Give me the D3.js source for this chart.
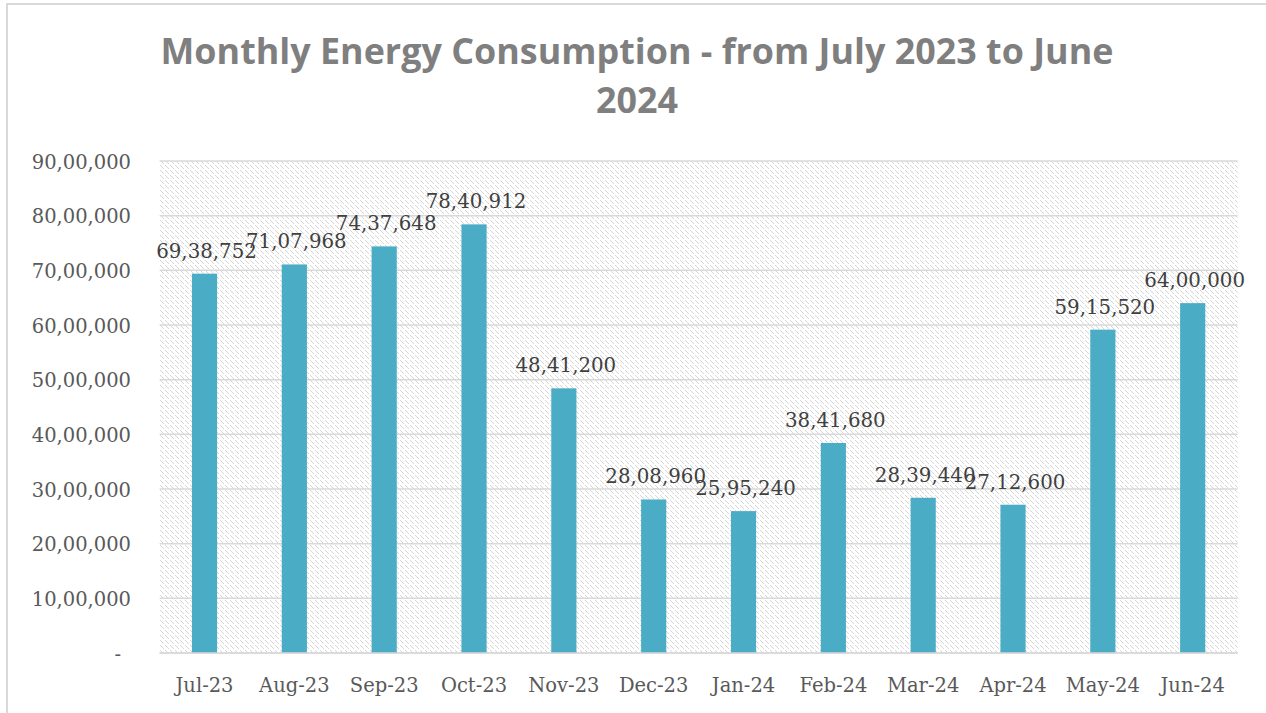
<!DOCTYPE html>
<html><head><meta charset="utf-8">
<script src="https://cdn.jsdelivr.net/npm/d3@7"></script>
<style>body{margin:0;background:#fff}svg{display:block}</style>
</head><body>
<svg id="c" width="1266" height="713"></svg>
<script>
const titleLines = ["Monthly Energy Consumption - from July 2023 to June", "2024"];
const months = ["Jul-23","Aug-23","Sep-23","Oct-23","Nov-23","Dec-23","Jan-24","Feb-24","Mar-24","Apr-24","May-24","Jun-24"];
const consumption = [6938752,7107968,7437648,7840912,4841200,2808960,2595240,3841680,2839440,2712600,5915520,6400000];
const yTicks = [0,1000000,2000000,3000000,4000000,5000000,6000000,7000000,8000000,9000000];

const svg = d3.select("#c");
const W = 1266, H = 713;
const m = {left:159.6, right:1237.6, top:161, bottom:653};

// border
svg.append("rect").attr("x",7).attr("y",4).attr("width",W+10).attr("height",H+10)
  .attr("fill","#fff").attr("stroke","#d9d9d9").attr("stroke-width",2);

// hatch pattern
const defs = svg.append("defs");
const pat = defs.append("pattern").attr("id","hatch").attr("patternUnits","userSpaceOnUse")
  .attr("width",5).attr("height",5);
pat.append("rect").attr("width",5).attr("height",5).attr("fill","#fff");
[[0,0],[1,1],[2,2],[3,3]].forEach(([x,y])=>pat.append("rect").attr("x",x).attr("y",y).attr("width",1).attr("height",1).attr("fill","#d6d6d6"));

const x = d3.scaleBand().domain(months).range([m.left,m.right]).paddingInner(0.72).paddingOuter(0.36);
const y = d3.scaleLinear().domain([0,9000000]).range([m.bottom,m.top]);

svg.append("rect").attr("x",m.left).attr("y",m.top).attr("width",m.right-m.left).attr("height",m.bottom-m.top)
  .attr("fill","url(#hatch)");

// gridlines
svg.append("g").selectAll("line").data(yTicks).join("line")
  .attr("x1",m.left).attr("x2",m.right).attr("y1",d=>y(d)).attr("y2",d=>y(d))
  .attr("stroke","#d9d9d9").attr("stroke-width",1.5);

// y axis labels
const fmtIN = v => v===0 ? "-" : v.toLocaleString("en-IN");
const yAxis = d3.axisLeft(y).tickValues(yTicks).tickFormat(fmtIN).tickSize(0).tickPadding(0);
const gy = svg.append("g").attr("transform",`translate(131,0)`).call(yAxis);
gy.select(".domain").remove();
gy.selectAll("text").attr("font-family","'DejaVu Serif'").attr("font-size",19.5).attr("fill","#595959")
  .attr("dy","0.36em").attr("x",d=>d===0?-10:0);

// bars
svg.append("g").selectAll("rect").data(months).join("rect")
  .attr("x",d=>x(d)).attr("width",x.bandwidth())
  .attr("y",(d,i)=>y(consumption[i])).attr("height",(d,i)=>y(0)-y(consumption[i]))
  .attr("fill","#4bacc6");

// x axis
const xAxis = d3.axisBottom(x).tickSize(0).tickPadding(0);
const gx = svg.append("g").attr("transform",`translate(0,${m.bottom})`).call(xAxis);
gx.select(".domain").attr("d",`M${m.left},0H${m.right}`).attr("stroke","#d9d9d9").attr("stroke-width",1.5);
gx.selectAll("text").attr("font-family","'DejaVu Serif'").attr("font-size",19.5).attr("fill","#595959")
  .attr("dy",null).attr("y",39);

// data labels
svg.append("g").selectAll("text").data(months).join("text")
  .attr("x",d=>x(d)+x.bandwidth()/2+2).attr("y",(d,i)=>y(consumption[i])-16)
  .attr("text-anchor","middle").attr("font-family","'DejaVu Serif'").attr("font-size",19.8)
  .attr("fill","#404040").text((d,i)=>consumption[i].toLocaleString("en-IN"));

// title
const tg = svg.append("g");
const t1 = tg.append("text").attr("x",0).attr("y",0).attr("text-anchor","middle")
  .attr("font-family","'Open Sans'").attr("font-weight","bold").attr("font-size",36).attr("fill","#7f7f7f")
  .text(titleLines[0]);
const w1 = t1.node().getComputedTextLength();
const sx = 953/w1;
t1.attr("transform",`translate(637,64) scale(${sx},1)`);
tg.append("text").attr("text-anchor","middle")
  .attr("font-family","'Open Sans'").attr("font-weight","bold").attr("font-size",36).attr("fill","#7f7f7f")
  .attr("transform",`translate(637,113) scale(${sx},1)`)
  .text(titleLines[1]);
</script>
</body></html>
